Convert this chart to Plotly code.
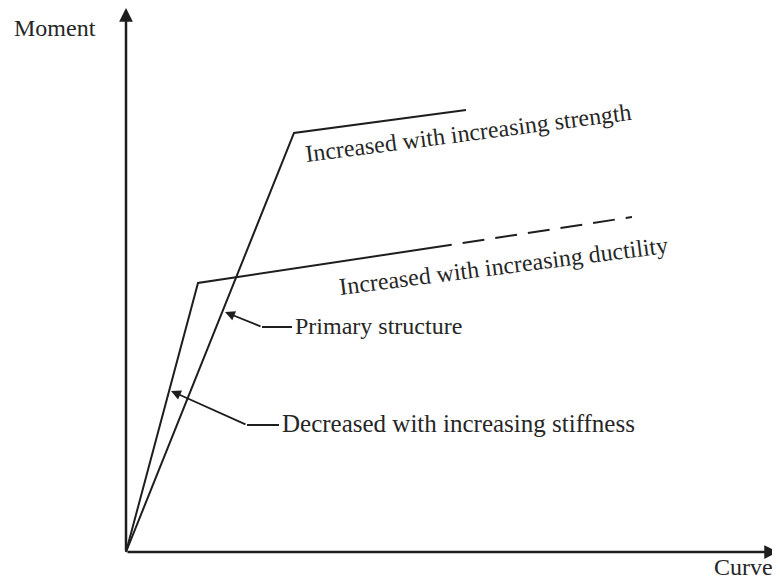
import plotly.graph_objects as go

# Moment-curvature idealised curves (arbitrary units)
primary_x = [0.0, 1.68, 3.40]
primary_y = [0.0, 4.19, 4.42]

ductile_solid_x = [0.0, 0.72, 3.04]
ductile_solid_y = [0.0, 2.69, 3.04]
ductile_dash_x = [3.04, 5.06]
ductile_dash_y = [3.04, 3.35]

axis_x_end = 6.52
axis_y_end = 5.44

label_strength = "Increased with increasing strength"
label_ductility = "Increased with increasing ductility"
label_primary = "Primary structure"
label_stiffness = "Decreased with increasing stiffness"

INK = "#1e1e1e"
TXT = "#262626"
FONT = dict(family="Liberation Serif, Times New Roman, serif", size=24, color=TXT)

fig = go.Figure()
fig.add_trace(go.Scatter(x=primary_x, y=primary_y, mode="lines",
                         line=dict(color=INK, width=2), hoverinfo="skip"))
fig.add_trace(go.Scatter(x=ductile_solid_x, y=ductile_solid_y, mode="lines",
                         line=dict(color=INK, width=2), hoverinfo="skip"))
fig.add_trace(go.Scatter(x=ductile_dash_x, y=ductile_dash_y, mode="lines",
                         line=dict(color=INK, width=2, dash="22px,11px"), hoverinfo="skip"))

# leader lines (horizontal part)
fig.add_trace(go.Scatter(x=[1.66, 1.36], y=[2.25, 2.25], mode="lines",
                         line=dict(color=INK, width=2), hoverinfo="skip"))
fig.add_trace(go.Scatter(x=[1.53, 1.21], y=[1.27, 1.27], mode="lines",
                         line=dict(color=INK, width=2), hoverinfo="skip"))

ann = []
# axes arrows
ann.append(dict(x=axis_x_end, y=0, ax=0, ay=0, xref="x", yref="y", axref="x", ayref="y",
                showarrow=True, arrowhead=2, arrowsize=1.1, arrowwidth=2.5, arrowcolor=INK, text=""))
ann.append(dict(x=0, y=axis_y_end, ax=0, ay=0, xref="x", yref="y", axref="x", ayref="y",
                showarrow=True, arrowhead=2, arrowsize=1.1, arrowwidth=2.5, arrowcolor=INK, text=""))
# leader arrows
ann.append(dict(x=0.99, y=2.40, ax=1.36, ay=2.25, xref="x", yref="y", axref="x", ayref="y",
                showarrow=True, arrowhead=2, arrowsize=1.1, arrowwidth=1.8, arrowcolor=INK, text=""))
ann.append(dict(x=0.45, y=1.61, ax=1.21, ay=1.27, xref="x", yref="y", axref="x", ayref="y",
                showarrow=True, arrowhead=2, arrowsize=1.1, arrowwidth=1.8, arrowcolor=INK, text=""))

# labels
ann.append(dict(x=-0.71, y=5.24, xref="x", yref="y", text="Moment", showarrow=False, font=FONT))
ann.append(dict(x=6.49, y=-0.15, xref="x", yref="y", text="Curve", showarrow=False,
                xanchor="right", font=FONT))
ann.append(dict(x=3.42, y=4.19, xref="x", yref="y", text=label_strength, showarrow=False,
                textangle=-7.4, font=FONT))
ann.append(dict(x=3.77, y=2.86, xref="x", yref="y", text=label_ductility, showarrow=False,
                textangle=-7.3, font=FONT))
ann.append(dict(x=1.67, y=2.26, xref="x", yref="y", text=label_primary, showarrow=False,
                xanchor="left", font=FONT))
ann.append(dict(x=1.54, y=1.29, xref="x", yref="y", text=label_stiffness, showarrow=False,
                xanchor="left", font=dict(FONT, size=25)))

# page body has an 8px default margin: figure spans window px 8..780 / 8..580
fig.update_layout(
    width=772, height=572,
    margin=dict(l=0, r=0, t=0, b=0),
    paper_bgcolor="white", plot_bgcolor="white",
    showlegend=False,
    xaxis=dict(range=[-1.18, 6.54], visible=False, fixedrange=True),
    yaxis=dict(range=[-0.28, 5.44], visible=False, fixedrange=True),
    annotations=ann,
)

fig.write_html("out.html", config={"displayModeBar": False})
